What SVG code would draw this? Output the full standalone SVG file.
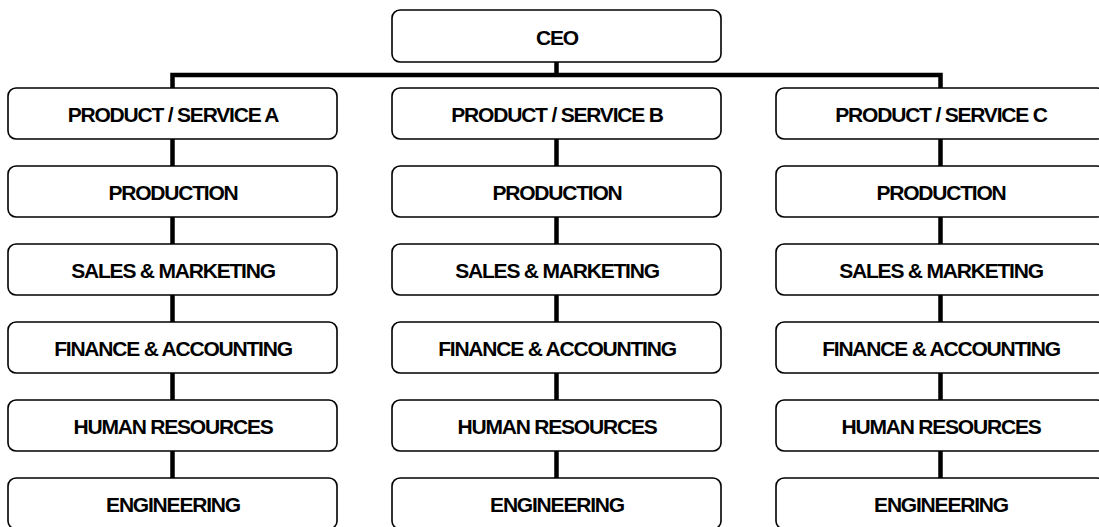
<svg xmlns="http://www.w3.org/2000/svg" width="1099" height="527" viewBox="0 0 1099 527">
<style>
.box{fill:#fff;stroke:#000;stroke-width:1.6}
.lbl{font-family:"Liberation Sans",Arial,sans-serif;font-weight:bold;font-size:21px;letter-spacing:-1.2px;text-anchor:middle;fill:#000}
.conn{fill:none;stroke:#000;stroke-width:4.5;stroke-linejoin:miter;stroke-linecap:butt}
</style>
<rect width="1099" height="527" fill="#fff"/>
<g id="connectors">
<path class="conn" d="M556.5 62V75M172.5 88V75H940.5V88"/>
<path class="conn" d="M172.5 139V478M556.5 139V478M940.5 139V478"/>
</g>
<g id="ceo"><rect class="box" x="392" y="10" width="329" height="52" rx="8"/><text class="lbl" x="557" y="44.5">CEO</text></g>
<g id="a1"><rect class="box" x="8" y="88" width="329" height="51" rx="8"/><text class="lbl" x="173" y="122">PRODUCT / SERVICE A</text></g>
<g id="a2"><rect class="box" x="8" y="166" width="329" height="51" rx="8"/><text class="lbl" x="173" y="200">PRODUCTION</text></g>
<g id="a3"><rect class="box" x="8" y="244" width="329" height="51" rx="8"/><text class="lbl" x="173" y="278">SALES &amp; MARKETING</text></g>
<g id="a4"><rect class="box" x="8" y="322" width="329" height="51" rx="8"/><text class="lbl" x="173" y="356">FINANCE &amp; ACCOUNTING</text></g>
<g id="a5"><rect class="box" x="8" y="400" width="329" height="51" rx="8"/><text class="lbl" x="173" y="434">HUMAN RESOURCES</text></g>
<g id="a6"><rect class="box" x="8" y="478" width="329" height="51" rx="8"/><text class="lbl" x="173" y="512">ENGINEERING</text></g>
<g id="b1"><rect class="box" x="392" y="88" width="329" height="51" rx="8"/><text class="lbl" x="557" y="122">PRODUCT / SERVICE B</text></g>
<g id="b2"><rect class="box" x="392" y="166" width="329" height="51" rx="8"/><text class="lbl" x="557" y="200">PRODUCTION</text></g>
<g id="b3"><rect class="box" x="392" y="244" width="329" height="51" rx="8"/><text class="lbl" x="557" y="278">SALES &amp; MARKETING</text></g>
<g id="b4"><rect class="box" x="392" y="322" width="329" height="51" rx="8"/><text class="lbl" x="557" y="356">FINANCE &amp; ACCOUNTING</text></g>
<g id="b5"><rect class="box" x="392" y="400" width="329" height="51" rx="8"/><text class="lbl" x="557" y="434">HUMAN RESOURCES</text></g>
<g id="b6"><rect class="box" x="392" y="478" width="329" height="51" rx="8"/><text class="lbl" x="557" y="512">ENGINEERING</text></g>
<g id="c1"><rect class="box" x="776" y="88" width="329" height="51" rx="8"/><text class="lbl" x="941" y="122">PRODUCT / SERVICE C</text></g>
<g id="c2"><rect class="box" x="776" y="166" width="329" height="51" rx="8"/><text class="lbl" x="941" y="200">PRODUCTION</text></g>
<g id="c3"><rect class="box" x="776" y="244" width="329" height="51" rx="8"/><text class="lbl" x="941" y="278">SALES &amp; MARKETING</text></g>
<g id="c4"><rect class="box" x="776" y="322" width="329" height="51" rx="8"/><text class="lbl" x="941" y="356">FINANCE &amp; ACCOUNTING</text></g>
<g id="c5"><rect class="box" x="776" y="400" width="329" height="51" rx="8"/><text class="lbl" x="941" y="434">HUMAN RESOURCES</text></g>
<g id="c6"><rect class="box" x="776" y="478" width="329" height="51" rx="8"/><text class="lbl" x="941" y="512">ENGINEERING</text></g>
</svg>
